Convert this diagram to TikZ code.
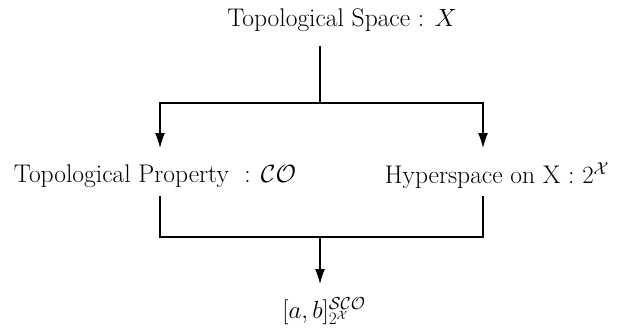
\documentclass[tikz,border=0pt]{standalone}
\usetikzlibrary{arrows.meta}
\begin{document}
\begin{tikzpicture}[x=1pt,y=-1pt,
  lbl/.style={inner sep=0pt,font=\fontsize{25.5}{30}\selectfont},
  conn/.style={line width=1.2pt},
  arr/.style={conn,-{Latex[length=15pt,width=10pt]}}]
\useasboundingbox (0,0) rectangle (617,329);
\node[lbl] (top) at (342,20) {Topological Space : $X$};
\node[lbl] (left) at (155,176) {Topological Property \ : $\mathcal{CO}$};
\node[lbl] (right) at (497,176) {Hyperspace on X : $2^{\mathcal{X}}$};
\node[lbl,font=\fontsize{24}{28}\selectfont] (bot) at (324,311) {$[a,b]^{\mathcal{SCO}}_{2^{\mathcal{X}}}$};
\coordinate (split) at (320,103);
\coordinate (la) at (160,148);
\coordinate (ra) at (483,148);
\coordinate (lb) at (160,196);
\coordinate (rb) at (483,196);
\coordinate (join) at (320,237);
\coordinate (ba) at (320,284);
\draw[conn] (320,46) -- (split);
\draw[arr] (split) -| (la);
\draw[arr] (split) -| (ra);
\draw[conn] (lb) |- (join) -| (rb);
\draw[arr] (join) -- (ba);
\end{tikzpicture}
\end{document}
